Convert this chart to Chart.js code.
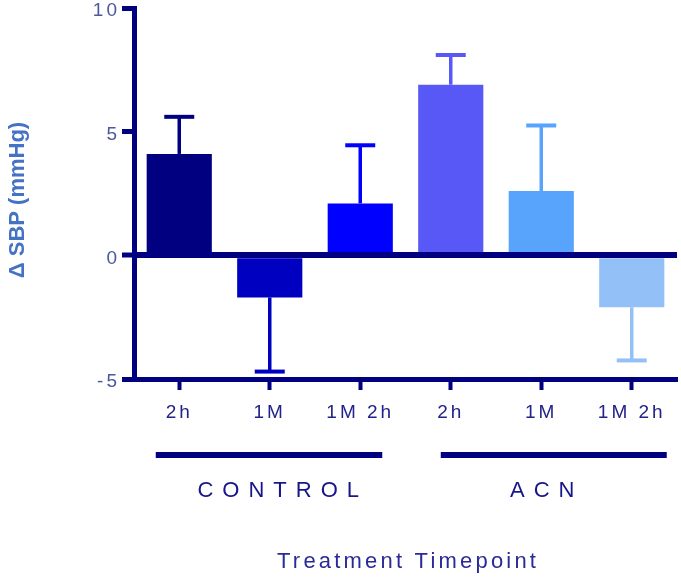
<!DOCTYPE html>
<html>
<head>
<meta charset="utf-8">
<script src="https://cdn.jsdelivr.net/npm/chart.js@4.4.1/dist/chart.umd.min.js"></script>
<style>
  html, body { margin: 0; padding: 0; background: #ffffff; }
  canvas { display: block; }
</style>
</head>
<body>
<canvas id="sbpChart" width="681" height="578"></canvas>
<script>
// Change in systolic blood pressure per treatment timepoint (mean and SEM, mmHg)
const categories = ['2h', '1M', '1M 2h', '2h', '1M', '1M 2h'];
const meanChange = [4.1, -1.7, 2.1, 6.9, 2.6, -2.1];
const semChange = [1.5, 3.0, 2.35, 1.2, 2.65, 2.15];
const yTickValues = [10, 5, 0, -5];
const groupNames = ['CONTROL', 'ACN'];
const groupFirst = [0, 3];
const groupLast = [2, 5];
const yTitle = 'Δ SBP (mmHg)';
const xTitle = 'Treatment Timepoint';

// Styling
const NAVY = '#000080';
const barColors = ['#000080', '#0000c0', '#0000ff', '#5858f6', '#58a4fc', '#94c0f8'];
const FONT = '"Liberation Sans", Arial, Helvetica, sans-serif';
const groupLineStyle = [
  { startPad: 23.5, endPad: 22, labelShift: 8.5 },
  { startPad: 10, endPad: 35, labelShift: 1 }
];

function spacedText(ctx, text, cx, cy, spacing) {
  // centre the visible glyphs, ignoring the trailing letter gap
  ctx.letterSpacing = spacing + 'px';
  const w = ctx.measureText(text).width - spacing;
  ctx.textAlign = 'left';
  ctx.fillText(text, cx - w / 2, cy);
}

const annotations = {
  id: 'annotations',
  beforeDraw(chart) {
    chart.ctx.letterSpacing = '3px';
  },
  afterDatasetsDraw(chart) {
    const ctx = chart.ctx;
    const y = chart.scales.y;
    const meta = chart.getDatasetMeta(0);
    ctx.save();
    meta.data.forEach((bar, i) => {
      const v = meanChange[i];
      const end = v >= 0 ? v + semChange[i] : v - semChange[i];
      const y0 = y.getPixelForValue(v);
      const y1 = y.getPixelForValue(end);
      ctx.strokeStyle = barColors[i];
      ctx.lineCap = 'butt';
      ctx.lineWidth = 3.5;
      ctx.beginPath();
      ctx.moveTo(bar.x, y0);
      ctx.lineTo(bar.x, y1);
      ctx.stroke();
      ctx.lineWidth = 4;
      ctx.beginPath();
      ctx.moveTo(bar.x - 15, y1);
      ctx.lineTo(bar.x + 15, y1);
      ctx.stroke();
    });
    ctx.restore();
  },
  afterDraw(chart) {
    const ctx = chart.ctx;
    const area = chart.chartArea;
    const x = chart.scales.x;
    ctx.save();
    ctx.letterSpacing = '0px';

    // vertical axis title
    ctx.save();
    ctx.translate(18, 200);
    ctx.rotate(-Math.PI / 2);
    ctx.font = 'bold 22px ' + FONT;
    ctx.fillStyle = '#4472c4';
    ctx.textAlign = 'center';
    ctx.textBaseline = 'middle';
    ctx.fillText(yTitle, 0, 0);
    ctx.restore();

    // group brackets and names
    ctx.textBaseline = 'middle';
    groupNames.forEach((name, g) => {
      const s = groupLineStyle[g];
      const x0 = x.getPixelForValue(groupFirst[g]) - s.startPad;
      const x1 = x.getPixelForValue(groupLast[g]) + s.endPad;
      ctx.strokeStyle = NAVY;
      ctx.lineWidth = 6;
      ctx.lineCap = 'butt';
      ctx.beginPath();
      ctx.moveTo(x0, area.bottom + 76);
      ctx.lineTo(x1, area.bottom + 76);
      ctx.stroke();

      const mid = x.getPixelForValue((groupFirst[g] + groupLast[g]) / 2) + s.labelShift;
      ctx.font = '22px ' + FONT;
      ctx.fillStyle = '#16168a';
      spacedText(ctx, name, mid, area.bottom + 112, 9);
    });

    // horizontal axis title
    ctx.font = '22px ' + FONT;
    ctx.fillStyle = '#2a2a98';
    spacedText(ctx, xTitle, (area.left + area.right) / 2 + 1, area.bottom + 183, 3.2);
    ctx.restore();
  }
};

new Chart(document.getElementById('sbpChart'), {
  type: 'bar',
  data: {
    labels: categories,
    datasets: [{
      data: meanChange,
      backgroundColor: barColors,
      borderWidth: 0,
      barPercentage: 0.9,
      categoryPercentage: 0.8
    }]
  },
  options: {
    responsive: false,
    animation: false,
    layout: { padding: { top: 8, right: 4, left: 0, bottom: 0 } },
    plugins: {
      legend: { display: false },
      tooltip: { enabled: false },
      title: { display: false }
    },
    scales: {
      x: {
        type: 'category',
        offset: true,
        afterFit(scale) {
          scale.height = 199;
          scale.paddingLeft = 0;
          scale.paddingRight = 0;
        },
        border: { display: true, color: NAVY, width: 5 },
        grid: {
          display: true,
          offset: false,
          drawOnChartArea: false,
          drawTicks: true,
          tickLength: 11,
          tickWidth: 4,
          tickColor: NAVY
        },
        ticks: {
          autoSkip: false,
          maxRotation: 0,
          padding: 11,
          color: '#22228a',
          font: { family: FONT, size: 19 }
        }
      },
      y: {
        min: -5,
        max: 10,
        afterBuildTicks(scale) {
          scale.ticks = yTickValues.map(v => ({ value: v }));
        },
        afterFit(scale) {
          scale.width = 134;
          scale.paddingTop = 0;
          scale.paddingBottom = 0;
        },
        border: { display: true, color: NAVY, width: 5, z: 1 },
        grid: {
          z: 1,
          drawOnChartArea: true,
          color: c => (c.tick && c.tick.value === 0 ? NAVY : 'rgba(0,0,0,0)'),
          lineWidth: c => (c.tick && c.tick.value === 0 ? 6 : 1),
          drawTicks: true,
          tickLength: 12,
          tickWidth: 5,
          tickColor: NAVY
        },
        ticks: {
          padding: 2,
          labelOffset: 3,
          color: '#4c589c',
          font: { family: FONT, size: 19 }
        }
      }
    }
  },
  plugins: [annotations]
});
</script>
</body>
</html>
